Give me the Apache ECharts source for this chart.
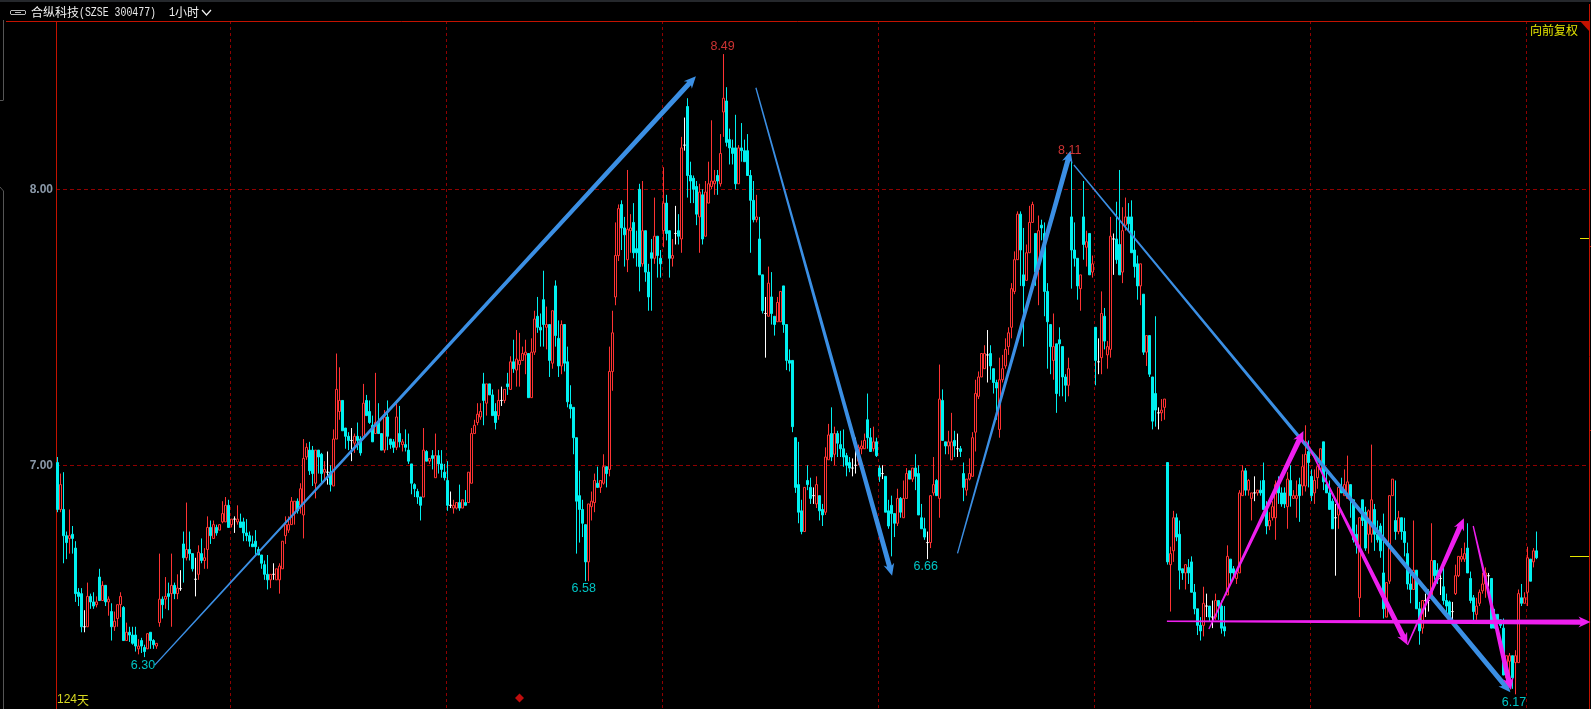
<!DOCTYPE html>
<html><head><meta charset="utf-8">
<style>html,body{margin:0;padding:0;background:#000;overflow:hidden}#c{width:1591px;height:709px}</style>
<script src="https://cdn.jsdelivr.net/npm/echarts@6/dist/echarts.min.js"></script>
</head><body><div id="c"></div>
<script>
// every row: [open, close, low, high]
const candlesA=[[7.01,6.84,6.83,7.03],[6.84,6.93,6.83,6.97],[6.84,6.745,6.645,6.975],[6.745,6.72,6.66,6.76],[6.735,6.745,6.68,6.84],[6.75,6.735,6.68,6.78],[6.70,6.535,6.505,6.725],[6.54,6.525,6.49,6.555],[6.535,6.415,6.395,6.555],[6.415,6.415,6.395,6.475],
[6.415,6.525,6.415,6.575],[6.525,6.505,6.48,6.535],[6.505,6.49,6.48,6.54],[6.495,6.505,6.485,6.525],[6.595,6.51,6.51,6.625],[6.51,6.565,6.51,6.58],[6.565,6.505,6.49,6.565],[6.505,6.515,6.455,6.525],[6.47,6.415,6.365,6.50],[6.415,6.435,6.40,6.47],
[6.445,6.495,6.415,6.495],[6.495,6.525,6.45,6.54],[6.485,6.365,6.365,6.49],[6.365,6.395,6.365,6.43],[6.395,6.385,6.36,6.415],[6.385,6.355,6.35,6.415],[6.385,6.345,6.325,6.415],[6.335,6.345,6.315,6.37],[6.365,6.345,6.32,6.375],[6.34,6.325,6.305,6.35],
[6.335,6.39,6.335,6.39],[6.395,6.365,6.335,6.395],[6.365,6.35,6.335,6.37],[6.345,6.355,6.335,6.355],[6.43,6.515,6.415,6.68],[6.515,6.495,6.445,6.525],[6.515,6.525,6.48,6.595],[6.535,6.525,6.475,6.575],[6.535,6.565,6.415,6.68],[6.565,6.535,6.515,6.575],
[6.535,6.555,6.515,6.605],[6.553,6.553,6.545,6.62],[6.715,6.665,6.575,6.76],[6.665,6.695,6.655,6.865],[6.695,6.68,6.655,6.76],[6.68,6.625,6.615,6.68],[6.587,6.587,6.525,6.665],[6.605,6.685,6.585,6.71],[6.68,6.655,6.645,6.735],[6.655,6.665,6.625,6.70],
[6.695,6.775,6.625,6.815],[6.775,6.745,6.715,6.80],[6.735,6.785,6.735,6.80],[6.775,6.755,6.745,6.785],[6.765,6.785,6.765,6.785],[6.795,6.825,6.79,6.87],[6.795,6.855,6.795,6.885],[6.855,6.775,6.775,6.875],[6.785,6.805,6.775,6.805],[6.805,6.805,6.755,6.815],
[6.795,6.805,6.785,6.855],[6.795,6.775,6.775,6.825],[6.795,6.755,6.725,6.81],[6.755,6.745,6.725,6.805],[6.745,6.725,6.705,6.76],[6.715,6.705,6.705,6.745],[6.725,6.705,6.675,6.765],[6.695,6.675,6.675,6.705],[6.675,6.645,6.625,6.675],[6.64,6.605,6.585,6.655],
[6.605,6.585,6.55,6.675],[6.585,6.605,6.555,6.605],[6.605,6.605,6.585,6.645],[6.585,6.625,6.585,6.625],[6.585,6.635,6.535,6.645],[6.625,6.725,6.625,6.725],[6.745,6.785,6.715,6.815],[6.765,6.785,6.755,6.815],[6.785,6.87,6.785,6.885],[6.825,6.87,6.785,6.87],
[6.87,6.835,6.825,6.88],[6.855,6.915,6.825,6.935],[6.82,7.025,6.735,7.095],[7.03,7.065,7.02,7.08],[7.055,6.98,6.965,7.085]];
const candlesB=[[7.055,6.97,6.925,7.07],[6.935,7.055,6.88,7.055],[7.055,7.03,6.97,7.055],[7.04,6.97,6.94,7.045],[6.975,6.985,6.945,7.015],[6.975,6.975,6.93,7.05],[6.975,6.93,6.905,7.0],[6.925,7.095,6.925,7.13],[7.095,7.275,7.095,7.405],[7.195,7.235,7.165,7.355],
[7.235,7.125,7.125,7.235],[7.135,7.105,7.06,7.135],[7.105,7.09,7.055,7.12],[7.09,7.09,7.015,7.135],[7.08,7.105,7.045,7.115],[7.105,7.09,7.055,7.155],[7.095,7.045,7.035,7.105],[7.105,7.225,7.095,7.295],[7.235,7.18,7.18,7.255],[7.195,7.155,7.15,7.235],
[7.145,7.085,7.085,7.18],[7.115,7.155,7.115,7.335],[7.155,7.115,7.115,7.225],[7.115,7.055,7.055,7.115],[7.055,7.175,7.045,7.2],[7.175,7.105,7.055,7.235],[7.095,7.075,7.06,7.095],[7.085,7.065,7.045,7.095],[7.065,7.175,7.055,7.225],[7.115,7.085,7.065,7.215],
[7.075,7.085,7.05,7.095],[7.075,7.065,7.05,7.13],[7.055,7.015,7.005,7.115],[7.005,6.935,6.895,7.005],[6.93,6.915,6.885,6.935],[6.905,6.885,6.86,6.915],[6.885,6.855,6.80,6.885],[6.885,7.055,6.885,7.135],[7.05,7.015,7.015,7.055],[7.015,7.025,7.005,7.025],
[7.035,7.025,6.985,7.055],[6.955,7.035,6.955,7.115],[7.035,7.005,6.97,7.055],[7.005,6.985,6.955,7.055],[6.975,6.955,6.945,7.005],[6.945,6.855,6.835,7.015],[6.855,6.855,6.845,6.905],[6.845,6.855,6.825,6.875],[6.845,6.865,6.84,6.865],[6.865,6.845,6.835,6.93],
[6.845,6.875,6.845,6.875],[6.865,6.855,6.855,6.91],[6.865,6.975,6.865,6.975],[6.935,7.115,6.935,7.135],[7.115,7.145,7.115,7.165],[7.155,7.185,7.145,7.225],[7.175,7.195,7.165,7.225],[7.295,7.235,7.145,7.335],[7.225,7.295,7.18,7.295],[7.295,7.255,7.255,7.295],
[7.255,7.18,7.18,7.275],[7.195,7.155,7.13,7.225],[7.18,7.235,7.165,7.275],[7.235,7.235,7.215,7.285],[7.235,7.275,7.225,7.275],[7.295,7.285,7.255,7.335],[7.275,7.375,7.275,7.395],[7.375,7.35,7.335,7.455],[7.345,7.385,7.285,7.49],[7.365,7.38,7.285,7.48],
[7.38,7.405,7.38,7.43],[7.40,7.41,7.33,7.455],[7.405,7.245,7.245,7.405],[7.245,7.41,7.245,7.46],[7.41,7.53,7.40,7.56],[7.54,7.50,7.48,7.61],[7.50,7.49,7.43,7.55],[7.60,7.51,7.43,7.705],[7.50,7.51,7.42,7.575],[7.51,7.38,7.32,7.51],
[7.37,7.56,7.35,7.56],[7.65,7.47,7.43,7.67],[7.46,7.36,7.32,7.525],[7.36,7.51,7.33,7.525],[7.51,7.37,7.34,7.51]];
const candlesC=[[7.375,7.23,7.21,7.43],[7.22,7.205,7.17,7.29],[7.21,7.10,7.04,7.21],[7.10,6.87,6.68,7.10],[6.89,6.84,6.72,6.98],[6.84,6.79,6.74,6.875],[6.785,6.65,6.58,6.785],[6.65,6.86,6.58,6.86],[6.85,6.87,6.80,6.905],[6.865,6.945,6.83,6.97],
[6.935,6.92,6.92,6.995],[6.92,6.945,6.90,6.945],[6.935,6.995,6.93,7.04],[6.995,6.97,6.92,6.995],[6.985,7.34,6.96,7.43],[7.34,7.48,7.27,7.56],[7.61,7.76,7.58,7.88],[7.76,7.93,7.74,7.945],[7.945,7.86,7.78,7.96],[7.86,7.835,7.72,7.90],
[7.745,7.855,7.70,8.07],[7.85,7.86,7.77,7.91],[7.88,7.77,7.75,7.95],[7.785,7.77,7.72,7.85],[8.0,7.72,7.63,8.02],[7.73,7.85,7.72,8.03],[7.85,7.70,7.665,7.85],[7.70,7.61,7.56,7.73],[7.77,7.75,7.56,7.82],[7.75,7.83,7.73,7.97],
[7.83,7.76,7.68,7.83],[7.75,7.73,7.68,7.78],[7.85,7.95,7.79,8.08],[7.95,7.84,7.815,7.98],[7.85,7.75,7.68,7.85],[7.75,7.76,7.72,7.82],[7.84,7.84,7.80,7.94],[7.85,7.83,7.80,7.91],[7.82,8.15,7.77,8.19],[8.16,8.16,8.14,8.26],
[8.30,8.05,7.97,8.33],[8.05,8.03,7.95,8.10],[8.04,8.0,7.95,8.05],[8.01,7.91,7.87,8.03],[7.90,7.99,7.77,8.02],[7.98,7.82,7.80,8.0],[7.83,7.99,7.83,8.03],[7.95,8.02,7.95,8.10],[8.01,8.03,8.0,8.25],[8.02,8.03,7.98,8.07],
[8.05,8.03,7.98,8.07],[8.02,8.13,8.01,8.20],[8.28,8.33,8.19,8.49],[8.32,8.17,8.155,8.37],[8.18,8.15,8.09,8.22],[8.15,8.13,8.09,8.18],[8.15,8.02,8.0,8.27],[8.02,8.15,8.02,8.16],[8.15,8.14,8.10,8.24],[8.14,8.10,8.10,8.18],
[8.14,8.05,8.05,8.20],[8.05,7.96,7.77,8.07],[7.96,7.89,7.88,8.03],[7.89,7.90,7.88,7.98],[7.82,7.69,7.69,7.90],[7.69,7.56,7.55,7.69],[7.55,7.55,7.39,7.61],[7.54,7.66,7.54,7.72],[7.61,7.55,7.51,7.70],[7.54,7.51,7.47,7.54],
[7.52,7.59,7.52,7.61],[7.52,7.63,7.52,7.63],[7.65,7.51,7.48,7.65],[7.51,7.38,7.345,7.51],[7.38,7.37,7.34,7.42]];
const candlesD=[[7.38,7.14,7.12,7.38],[7.10,6.92,6.90,7.10],[6.93,6.83,6.79,7.085],[6.835,6.76,6.75,6.875],[6.76,6.92,6.76,6.92],[6.945,6.93,6.91,7.0],[6.92,6.88,6.86,6.955],[6.89,6.89,6.86,6.92],[6.86,6.93,6.845,6.96],[6.89,6.835,6.80,6.89],
[6.84,6.82,6.78,6.86],[6.83,7.03,6.82,7.065],[7.02,7.11,7.02,7.15],[7.115,7.03,7.015,7.21],[7.04,7.115,7.0,7.14],[7.115,7.08,7.03,7.125],[7.075,7.06,7.03,7.125],[7.06,7.03,6.995,7.13],[7.035,7.0,6.96,7.045],[7.01,6.99,6.975,7.03],
[6.99,6.99,6.96,7.025],[7.0,7.0,6.97,7.10],[7.015,7.065,7.0,7.075],[7.06,7.07,7.04,7.09],[7.06,7.09,7.06,7.115],[7.165,7.10,7.06,7.26],[7.10,7.05,7.05,7.135],[7.06,7.085,7.05,7.14],[7.085,7.035,7.03,7.10],[6.99,6.96,6.94,7.0],
[6.97,6.97,6.95,7.0],[6.96,6.83,6.83,6.96],[6.835,6.78,6.77,6.875],[6.855,6.825,6.67,6.89],[6.825,6.79,6.74,6.825],[6.79,6.88,6.78,6.915],[6.88,6.83,6.81,6.885],[6.81,6.88,6.81,6.945],[6.88,6.97,6.88,6.99],[6.98,6.95,6.95,6.98],
[6.95,6.99,6.94,6.99],[6.99,6.96,6.91,7.04],[6.97,6.82,6.82,7.0],[6.81,6.77,6.77,6.86],[6.77,6.74,6.73,6.81],[6.72,6.72,6.66,6.76],[6.72,6.89,6.70,6.89],[6.90,6.93,6.89,7.03],[6.945,6.89,6.89,6.95],[6.88,7.24,6.81,7.365],
[7.235,7.09,7.09,7.275],[7.085,7.07,7.04,7.085],[7.07,7.085,7.04,7.125],[7.02,7.085,7.02,7.19],[7.09,7.07,7.03,7.125],[7.06,7.06,7.03,7.115],[7.06,7.05,7.03,7.07],[6.97,6.92,6.87,7.01],[6.91,6.95,6.89,6.95],[6.95,6.97,6.945,7.025],
[6.96,7.10,6.96,7.12],[7.12,7.26,7.05,7.31],[7.25,7.32,7.24,7.34],[7.32,7.405,7.32,7.405],[7.35,7.405,7.35,7.435]];
const candlesE=[[7.40,7.40,7.30,7.49],[7.405,7.36,7.31,7.435],[7.35,7.30,7.26,7.35],[7.30,7.28,7.165,7.31],[7.13,7.31,7.10,7.39],[7.31,7.35,7.30,7.40],[7.36,7.42,7.35,7.46],[7.43,7.48,7.40,7.50],[7.50,7.64,7.46,7.66],[7.63,7.745,7.62,7.775],
[7.745,7.91,7.745,7.92],[7.91,7.78,7.65,7.92],[7.69,7.65,7.43,7.86],[7.67,7.77,7.67,7.80],[7.77,7.88,7.77,7.94],[7.88,7.945,7.88,7.955],[7.84,7.70,7.65,7.84],[7.71,7.85,7.58,7.905],[7.87,7.86,7.815,7.89],[7.84,7.63,7.54,7.88],
[7.63,7.52,7.35,7.66],[7.51,7.43,7.33,7.51],[7.38,7.43,7.31,7.55],[7.44,7.26,7.19,7.44],[7.455,7.44,7.25,7.50],[7.43,7.32,7.25,7.43],[7.32,7.29,7.23,7.33],[7.29,7.35,7.25,7.39],[7.90,7.78,7.64,8.11],[7.78,7.75,7.72,7.88],
[7.75,7.65,7.60,7.75],[7.64,7.69,7.56,7.69],[7.90,7.80,7.745,8.03],[7.79,7.81,7.72,7.85],[7.84,7.69,7.69,7.84],[7.70,7.73,7.68,7.76],[7.50,7.38,7.29,7.50],[7.375,7.375,7.33,7.46],[7.39,7.55,7.33,7.63],[7.54,7.45,7.42,7.57],
[7.40,7.43,7.35,7.45],[7.42,7.83,7.39,7.90],[7.82,7.82,7.69,7.84],[7.82,7.745,7.73,7.955],[7.80,7.69,7.69,8.07],[7.70,7.85,7.66,7.935],[7.87,7.90,7.85,7.97],[7.90,7.875,7.85,7.95],[7.90,7.77,7.77,7.96],[7.78,7.72,7.68,7.85],
[7.73,7.65,7.60,7.76],[7.65,7.73,7.58,7.73],[7.62,7.41,7.40,7.62],[7.41,7.47,7.36,7.47],[7.47,7.33,7.32,7.47],[7.32,7.16,7.13,7.32],[7.26,7.20,7.14,7.54],[7.19,7.19,7.13,7.21],[7.19,7.20,7.16,7.24],[7.21,7.24,7.165,7.24]];
const candlesF=[[7.01,6.65,6.64,7.01],[6.64,6.68,6.47,6.705],[6.69,6.81,6.65,6.835],[6.81,6.74,6.725,6.825],[6.75,6.62,6.55,6.80],[6.625,6.61,6.585,6.625],[6.61,6.64,6.55,6.64],[6.63,6.61,6.57,6.66],[6.65,6.54,6.54,6.67],[6.54,6.48,6.46,6.57],
[6.48,6.42,6.385,6.48],[6.42,6.40,6.365,6.45],[6.42,6.50,6.38,6.56],[6.49,6.49,6.45,6.535],[6.49,6.45,6.435,6.49],[6.45,6.45,6.41,6.51],[6.45,6.51,6.44,6.535],[6.51,6.49,6.44,6.51],[6.49,6.41,6.39,6.51],[6.415,6.40,6.38,6.49],
[6.53,6.67,6.53,6.71],[6.66,6.61,6.57,6.66],[6.625,6.61,6.59,6.635],[6.59,6.61,6.57,6.62],[6.61,6.90,6.61,6.91],[6.89,6.98,6.89,7.0],[6.98,6.91,6.89,6.99],[6.91,6.945,6.89,6.95],[6.88,6.90,6.80,6.90],[6.90,6.90,6.87,6.96],
[6.90,6.91,6.89,6.91],[6.91,6.90,6.89,6.945],[6.945,6.84,6.84,7.01],[6.85,6.78,6.75,6.87],[6.78,6.80,6.765,6.83],[6.81,6.85,6.80,6.87],[6.81,6.93,6.73,6.945],[6.93,6.90,6.86,6.96],[6.90,6.86,6.85,6.92],[6.90,6.86,6.845,6.92],
[6.85,6.95,6.77,6.975],[6.945,6.89,6.85,7.0],[6.88,6.89,6.88,6.91],[6.88,6.89,6.81,6.945],[6.93,6.89,6.795,6.955],[6.925,6.995,6.89,7.04],[6.925,7.04,6.905,7.145],[7.05,7.01,6.92,7.09],[6.96,6.89,6.87,6.985],[6.90,6.945,6.86,6.985],
[6.955,6.995,6.915,6.995],[6.985,7.06,6.985,7.06],[7.085,6.94,6.91,7.085],[6.93,6.90,6.90,6.985],[6.90,6.84,6.84,6.945],[6.87,6.77,6.77,6.88],[6.81,6.81,6.60,6.86],[6.82,6.92,6.77,6.92]];
const candlesG=[[6.92,6.90,6.90,6.955],[6.89,6.93,6.89,6.985],[6.88,6.94,6.88,7.035],[6.93,6.88,6.81,6.93],[6.875,6.73,6.72,6.875],[6.75,6.71,6.68,6.785],[6.52,6.81,6.45,6.81],[6.875,6.80,6.78,6.875],[6.83,6.70,6.69,6.85],[6.75,6.835,6.68,6.84],
[6.75,6.875,6.72,7.075],[6.84,6.75,6.69,6.86],[6.75,6.73,6.72,6.80],[6.78,6.69,6.665,6.79],[6.61,6.48,6.445,6.825],[6.45,6.575,6.45,6.575],[6.58,6.89,6.57,6.89],[6.89,6.95,6.89,6.95],[6.80,6.76,6.73,6.945],[6.76,6.81,6.75,6.835],
[6.81,6.76,6.73,6.81],[6.76,6.72,6.67,6.81],[6.68,6.57,6.55,6.72],[6.57,6.55,6.50,6.62],[6.55,6.62,6.55,6.80],[6.62,6.48,6.48,6.62],[6.48,6.40,6.35,6.505],[6.41,6.51,6.39,6.51],[6.51,6.51,6.45,6.535],[6.51,6.51,6.47,6.55],
[6.52,6.655,6.52,6.79],[6.655,6.60,6.585,6.655],[6.62,6.585,6.57,6.645],[6.59,6.59,6.53,6.63],[6.56,6.51,6.495,6.63],[6.51,6.49,6.45,6.535],[6.505,6.44,6.435,6.51],[6.47,6.47,6.44,6.505],[6.535,6.60,6.53,6.64],[6.60,6.67,6.595,6.67],
[6.66,6.67,6.65,6.70],[6.66,6.68,6.65,6.72],[6.70,6.61,6.61,6.79],[6.59,6.51,6.50,6.615],[6.52,6.47,6.43,6.53],[6.46,6.49,6.44,6.52],[6.50,6.54,6.49,6.55],[6.545,6.57,6.535,6.61],[6.57,6.61,6.52,6.63],[6.60,6.60,6.56,6.61],
[6.59,6.41,6.41,6.59],[6.46,6.41,6.41,6.48],[6.46,6.44,6.43,6.46],[6.44,6.42,6.41,6.44],[6.41,6.24,6.24,6.445],[6.23,6.31,6.22,6.31],[6.29,6.31,6.20,6.32],[6.31,6.23,6.19,6.31],[6.285,6.31,6.17,6.33],[6.285,6.535,6.285,6.55],
[6.52,6.50,6.49,6.57],[6.50,6.52,6.50,6.54],[6.54,6.665,6.49,6.705],[6.66,6.58,6.58,6.66],[6.65,6.69,6.63,6.70],[6.69,6.665,6.66,6.76]];
const yTicks=[7,8];
const verticalGridBars=[58,130,202,274,346,418,490];
// [bar position, price] from -> to
const blueArrows=[[32.4,6.276,212.8,8.41],[232.8,8.368,278.2,6.60],[300,6.681,337.7,8.14],[338.8,8.088,484.3,6.178]];
const magentaArrows=[[369.8,6.435,511,6.432],[383.8,6.407,415.3,7.124],[416.3,7.086,450,6.349],[450,6.349,468.8,6.808],[471.9,6.78,484.5,6.186]];
const redLabels=[[221.7,8.517,'8.49'],[337.4,8.14,'8.11']];
const cyanLabels=[[28.5,6.274,'6.30'],[175.4,6.552,'6.58'],[289.4,6.633,'6.66'],[485.5,6.142,'6.17']];
const signalMarks=[[154,6.157]];

const candles=[...candlesA,...candlesB,...candlesC,...candlesD,...candlesE,...candlesF,...candlesG];
const BARS=511;
const categories=Array.from({length:BARS},(_,i)=>String(i));
const RED='#ff3333',CYAN='#00f0f0',FRAME='#c41200',GRIDC='#8f0000',BLUE='#3b8fe4',MAG='#ee1fee';
const vset=new Set(verticalGridBars);

function arrowSeries(data,color,w1,headL,headW){
 return {type:'custom',xAxisIndex:1,yAxisIndex:0,clip:false,z:5,silent:true,
  encode:{x:[0,2],y:[1,3]},data,
  renderItem(p,api){
    const s=api.coord([api.value(0),api.value(1)]),t=api.coord([api.value(2),api.value(3)]);
    const dx=t[0]-s[0],dy=t[1]-s[1],L=Math.hypot(dx,dy),ux=dx/L,uy=dy/L,nx=-uy,ny=ux;
    const b=[t[0]-ux*headL,t[1]-uy*headL];
    const w0=0.65;
    return {type:'polygon',shape:{points:[
      [s[0]+nx*w0,s[1]+ny*w0],
      [b[0]+nx*w1,b[1]+ny*w1],
      [b[0]-ux*2+nx*headW,b[1]-uy*2+ny*headW],
      t,
      [b[0]-ux*2-nx*headW,b[1]-uy*2-ny*headW],
      [b[0]-nx*w1,b[1]-ny*w1],
      [s[0]-nx*w0,s[1]-ny*w0]]},
      style:{fill:color}};
  }};
}
function labelSeries(data,color){
 return {type:'scatter',xAxisIndex:1,yAxisIndex:0,symbolSize:0,z:6,silent:true,data,
  label:{show:true,position:'inside',formatter:o=>o.value[2],color,fontSize:12.5,fontFamily:'"Liberation Sans",sans-serif'}};
}
function ln(x1,y1,x2,y2,c,w){return {type:'line',silent:true,z:1,shape:{x1,y1,x2,y2},style:{stroke:c,lineWidth:w||1}};}
function txt(x,y,t,c,size,font,sx){return {type:'text',silent:true,z:10,x,y,scaleX:sx||1,style:{text:t,fill:c,fontSize:size,fontFamily:font,textVerticalAlign:'middle'}};}
const CJK='"Noto Sans CJK SC",sans-serif',MONO='"Liberation Mono",monospace';

const chart=echarts.init(document.getElementById('c'),null,{renderer:'canvas'});
chart.setOption({
 animation:false,backgroundColor:'#000',
 grid:{left:56,top:21,width:1533,height:688,containLabel:false},
 xAxis:[{type:'category',data:categories,boundaryGap:true,axisLine:{show:false},axisTick:{show:false},axisLabel:{show:false},
   splitLine:{show:true,interval:i=>vset.has(i),lineStyle:{color:GRIDC,type:[3,3],width:1}}},
  {type:'value',show:false,min:-0.5,max:BARS-0.5,splitLine:{show:false}}],
 yAxis:{type:'value',min:6.117,max:8.6098,scale:true,position:'left',
   axisLine:{show:false},
   axisTick:{show:false,customValues:yTicks},
   axisLabel:{customValues:yTicks,formatter:v=>v.toFixed(2),color:'#8a98a8',fontSize:12,fontWeight:'bold',margin:3,fontFamily:'"Liberation Sans",sans-serif'},
   splitLine:{show:true,lineStyle:{color:GRIDC,type:[4,3],width:1}}},
 series:[
  {type:'candlestick',xAxisIndex:0,yAxisIndex:0,barWidth:2,z:3,silent:true,data:candles,
   itemStyle:{color:'#000',color0:CYAN,borderColor:RED,borderColor0:CYAN,borderColorDoji:'#ffffff',borderWidth:1}},
  arrowSeries(blueArrows,BLUE,2.5,10,5.5),
  arrowSeries(magentaArrows,MAG,2.6,10,5.5),
  labelSeries(redLabels,'#ff4040'),
  labelSeries(cyanLabels,'#00f4f4'),
  {type:'scatter',xAxisIndex:1,yAxisIndex:0,symbol:'diamond',symbolSize:9,z:6,silent:true,data:signalMarks,itemStyle:{color:'#f01010'}}
 ],
 graphic:[
  {type:'rect',silent:true,shape:{x:0,y:0,width:1591,height:2},style:{fill:'#25282c'}},
  ln(6,21.5,1589,21.5,FRAME),
  ln(56.5,21,56.5,709,FRAME),
  ln(1589.5,4,1589.5,709,FRAME),
  ln(1589,246.5,1591,246.5,FRAME),ln(1589,430.5,1591,430.5,FRAME),
  ln(3.5,20,3.5,100,'#555'),ln(0,100.5,3.5,100.5,'#555'),ln(3.5,191,3.5,709,'#555'),ln(0,187,3.5,191,'#555'),
  {type:'polygon',silent:true,z:2,shape:{points:[[1580,21],[1590,21],[1590,32]]},style:{fill:'#c41200'}},
  ln(1580,238.5,1589,238.5,'#e6e600'),ln(1570,556.5,1589,556.5,'#e6e600'),
  {type:'polyline',silent:true,shape:{points:[[18,10.5],[11,10.5],[10.5,11],[10.5,14],[11,14.5],[18,14.5]]},style:{stroke:'#b8b8b8',fill:null,lineWidth:1}},
  {type:'polyline',silent:true,shape:{points:[[18,10.5],[25,10.5],[25.5,11],[25.5,14],[25,14.5],[18,14.5]]},style:{stroke:'#b8b8b8',fill:null,lineWidth:1}},
  ln(15,12.5,21,12.5,'#b8b8b8'),
  txt(31,12.5,'合纵科技','#f0f0f0',12,CJK),
  txt(79,12.5,'(SZSE 300477)','#e8e8e8',12,MONO,0.823),
  txt(169,12.5,'1','#f0f0f0',12,MONO,0.85),
  txt(175,12.5,'小时','#f0f0f0',12,CJK),
  {type:'polyline',silent:true,shape:{points:[[202,10],[206.5,15],[211,10]]},style:{stroke:'#f0f0f0',fill:null,lineWidth:1.2}},
  txt(1530,30.5,'向前复权','#e6e600',12,CJK),
  txt(57,700,'124','#d8d820',12,'"Liberation Sans",sans-serif'),
  txt(77,700,'天','#d8d820',12,CJK)
 ]
});
</script></body></html>
